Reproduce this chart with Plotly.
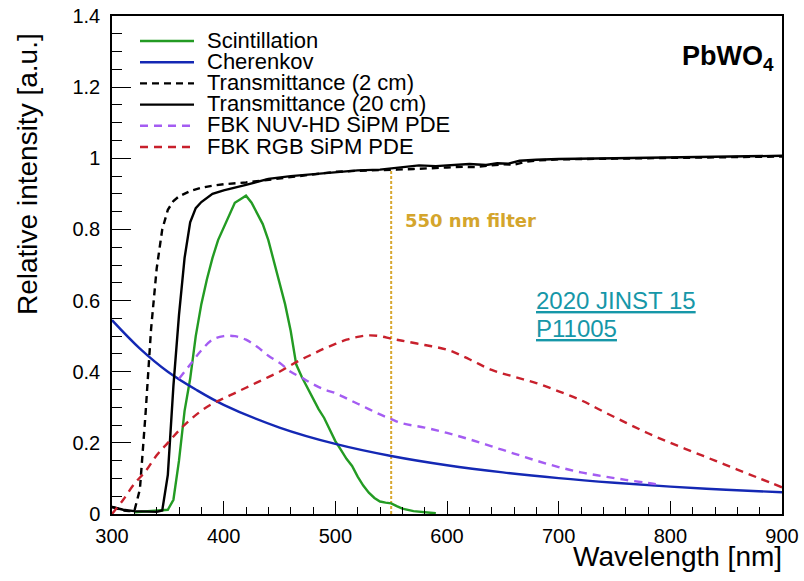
import plotly.graph_objects as go

# ---------------- data ----------------
scint_wl = [320, 330, 340, 345, 350, 355, 360, 365, 370, 375, 380, 385, 390, 395, 400, 405, 410,
            415, 420, 425, 430, 435, 440, 445, 450, 455, 460, 465, 470, 475, 480, 485, 490, 495,
            500, 505, 510, 515, 520, 525, 530, 535, 540, 545, 550, 555, 560, 570, 580, 590]
scint_val = [0.005, 0.008, 0.01, 0.012, 0.012, 0.04, 0.15, 0.29, 0.38, 0.5, 0.59, 0.66, 0.72, 0.77,
             0.805, 0.845, 0.875, 0.885, 0.895, 0.875, 0.845, 0.815, 0.77, 0.71, 0.65, 0.59, 0.515,
             0.42, 0.385, 0.355, 0.325, 0.295, 0.27, 0.235, 0.205, 0.18, 0.155, 0.135, 0.105, 0.08,
             0.06, 0.045, 0.035, 0.032, 0.03, 0.022, 0.015, 0.008, 0.005, 0.002]

cher_wl = [300, 325, 350, 375, 400, 450, 500, 550, 600, 650, 700, 750, 800, 850, 900]
cher_val = [0.545, 0.465, 0.40, 0.35, 0.307, 0.243, 0.197, 0.163, 0.137, 0.117, 0.101, 0.088,
            0.077, 0.068, 0.061]

t2_wl = [300, 305, 310, 315, 320, 325, 330, 335, 340, 345, 350, 355, 360, 370, 380, 390, 400,
         420, 440, 460, 480, 500, 520, 540, 555, 570, 580, 600, 615, 625, 640, 650, 660, 670,
         680, 700, 750, 800, 850, 900]
t2_val = [0.02, 0.015, 0.01, 0.008, 0.008, 0.07, 0.28, 0.52, 0.69, 0.8, 0.855, 0.88, 0.893, 0.908,
          0.917, 0.923, 0.927, 0.932, 0.94, 0.948, 0.955, 0.962, 0.965, 0.966, 0.968, 0.97, 0.972,
          0.974, 0.976, 0.975, 0.98, 0.983, 0.982, 0.99, 0.994, 0.997, 0.999, 1.001, 1.003, 1.005]

t20_wl = [300, 310, 320, 330, 340, 345, 350, 355, 360, 365, 370, 375, 380, 390, 400, 420, 440,
          460, 480, 500, 520, 540, 550, 560, 575, 590, 605, 620, 635, 645, 655, 665, 680, 700,
          750, 800, 850, 900]
t20_val = [0.02, 0.012, 0.008, 0.006, 0.006, 0.01, 0.11, 0.36, 0.56, 0.72, 0.82, 0.86, 0.877, 0.9,
           0.91, 0.925, 0.942, 0.95, 0.956, 0.962, 0.966, 0.968, 0.972, 0.976, 0.98, 0.978, 0.982,
           0.984, 0.981, 0.986, 0.985, 0.993, 0.996, 0.998, 1.0, 1.002, 1.004, 1.007]

nuv_wl = [360, 370, 380, 390, 400, 410, 420, 430, 440, 450, 460, 470, 480, 490, 500, 510, 520,
          530, 540, 550, 560, 580, 600, 620, 640, 660, 680, 700, 720, 740, 760, 780, 790]
nuv_val = [0.38, 0.42, 0.46, 0.49, 0.5, 0.5, 0.49, 0.47, 0.445, 0.425, 0.40, 0.383, 0.365, 0.35,
           0.34, 0.325, 0.31, 0.295, 0.28, 0.267, 0.255, 0.243, 0.228, 0.21, 0.19, 0.17, 0.15,
           0.132, 0.117, 0.106, 0.096, 0.087, 0.083]

rgb_wl = [300, 310, 320, 330, 340, 350, 360, 370, 380, 390, 400, 410, 420, 430, 440, 450, 460,
          470, 480, 490, 500, 510, 520, 530, 540, 550, 560, 580, 600, 620, 640, 660, 680, 700,
          720, 740, 760, 780, 800, 820, 840, 860, 880, 900]
rgb_val = [0.0, 0.04, 0.085, 0.12, 0.165, 0.2, 0.235, 0.265, 0.29, 0.31, 0.325, 0.34, 0.355, 0.37,
           0.385, 0.4, 0.418, 0.435, 0.45, 0.465, 0.478, 0.49, 0.498, 0.502, 0.5, 0.493, 0.487,
           0.475, 0.462, 0.435, 0.405, 0.386, 0.368, 0.345, 0.32, 0.288, 0.257, 0.227, 0.2, 0.175,
           0.15, 0.125, 0.1, 0.075]

filter_nm = [550, 550]
filter_level = [0.0, 0.972]

x_range = [300, 900]
y_range = [0, 1.4]
x_ticks = [300, 400, 500, 600, 700, 800, 900]
y_ticks = [0, 0.2, 0.4, 0.6, 0.8, 1.0, 1.2, 1.4]
y_tick_text = ["0", "0.2", "0.4", "0.6", "0.8", "1", "1.2", "1.4"]

legend_names = ["Scintillation", "Cherenkov", "Transmittance (2 cm)", "Transmittance (20 cm)",
                "FBK NUV-HD SiPM PDE", "FBK RGB SiPM PDE"]

# ---------------- styles ----------------
FONT = "Liberation Sans, Arial, Helvetica, sans-serif"
W = 2.4
styles = [
    dict(color="#239b23", width=W),
    dict(color="#1428b4", width=W),
    dict(color="black", width=W, dash="7px,5px"),
    dict(color="black", width=W),
    dict(color="#a45cf2", width=W, dash="8px,6px"),
    dict(color="#c8202c", width=W, dash="8px,6px"),
]
series = [(scint_wl, scint_val, "linear"), (cher_wl, cher_val, "spline"),
          (t2_wl, t2_val, "linear"), (t20_wl, t20_val, "linear"),
          (nuv_wl, nuv_val, "spline"), (rgb_wl, rgb_val, "spline")]

fig = go.Figure()
fig.add_trace(go.Scatter(x=filter_nm, y=filter_level, mode="lines", showlegend=False,
                         line=dict(color="#d8a830", width=2, dash="3px,2px"), hoverinfo="skip"))
for (xs, ys, shp), name, st in zip(series, legend_names, styles):
    fig.add_trace(go.Scatter(x=xs, y=ys, mode="lines", name=name, showlegend=False,
                             line=dict(shape=shp, **st)))

# manual legend (ROOT-like compact legend)
PLOT_L, PLOT_W, PLOT_B, PLOT_H = 112, 670, 514, 498
def px_x(p):
    return (p - PLOT_L) / PLOT_W
def px_y(p):
    return (PLOT_B - p) / PLOT_H

shapes = []
annotations = []
for i, (name, st) in enumerate(zip(legend_names, styles)):
    row_y = 41 + i * 21.2
    shapes.append(dict(type="line", xref="paper", yref="paper",
                       x0=px_x(140), x1=px_x(194), y0=px_y(row_y), y1=px_y(row_y),
                       line=st))
    annotations.append(dict(text=name, xref="paper", yref="paper", x=px_x(205), y=px_y(row_y - 1),
                            xanchor="left", yanchor="middle", showarrow=False,
                            font=dict(size=22, family=FONT, color="black")))

annotations += [
    dict(text="Relative intensity [a.u.]", xref="paper", yref="paper", x=px_x(28), y=px_y(174),
         xanchor="center", yanchor="middle", textangle=-90, showarrow=False,
         font=dict(size=28, family=FONT, color="black")),
    dict(text="Wavelength [nm]", xref="paper", yref="paper", x=px_x(784), y=px_y(556),
         xanchor="right", yanchor="middle", showarrow=False,
         font=dict(size=28, family=FONT, color="black")),
    dict(text="<b>PbWO<sub>4</sub></b>", xref="paper", yref="paper", x=px_x(776), y=px_y(58),
         xanchor="right", yanchor="middle", showarrow=False,
         font=dict(size=27, family=FONT, color="black")),
    dict(text="<b>550 nm filter</b>", xref="x", yref="y", x=561, y=0.825,
         xanchor="left", yanchor="middle", showarrow=False,
         font=dict(size=18, family="DejaVu Sans, Verdana, sans-serif", color="#d4a52c")),
    dict(text="<u>2020 JINST 15</u>", xref="paper", yref="paper", x=px_x(534), y=px_y(300),
         xanchor="left", yanchor="middle", showarrow=False,
         font=dict(size=24, family=FONT, color="#1697a8")),
    dict(text="<u>P11005</u>", xref="paper", yref="paper", x=px_x(534), y=px_y(328),
         xanchor="left", yanchor="middle", showarrow=False,
         font=dict(size=24, family=FONT, color="#1697a8")),
]

fig.update_layout(
    width=804, height=581,
    margin=dict(l=112, r=22, t=16, b=67, autoexpand=False),
    paper_bgcolor="white", plot_bgcolor="white",
    font=dict(family=FONT, color="black", size=20),
    showlegend=False,
    xaxis=dict(range=x_range, tickvals=x_ticks, ticks="inside", ticklen=13, tickwidth=1,
               tickcolor="black", showline=True, linecolor="black", linewidth=1.5, mirror=True,
               showgrid=False, zeroline=False, ticklabelstandoff=3, automargin=False,
               tickfont=dict(size=20, family=FONT),
               minor=dict(dtick=20, ticks="inside", ticklen=7, tickcolor="black", tickwidth=1,
                          showgrid=False)),
    yaxis=dict(range=y_range, tickvals=y_ticks, ticktext=y_tick_text, ticks="inside", ticklen=19,
               tickwidth=1, tickcolor="black", showline=True, linecolor="black", linewidth=1.5,
               mirror=True, showgrid=False, zeroline=False, ticklabelstandoff=6, automargin=False,
               tickfont=dict(size=20, family=FONT),
               minor=dict(dtick=0.05, ticks="inside", ticklen=10, tickcolor="black", tickwidth=1,
                          showgrid=False)),
    shapes=shapes,
    annotations=annotations,
)

fig.write_html("out.html")
